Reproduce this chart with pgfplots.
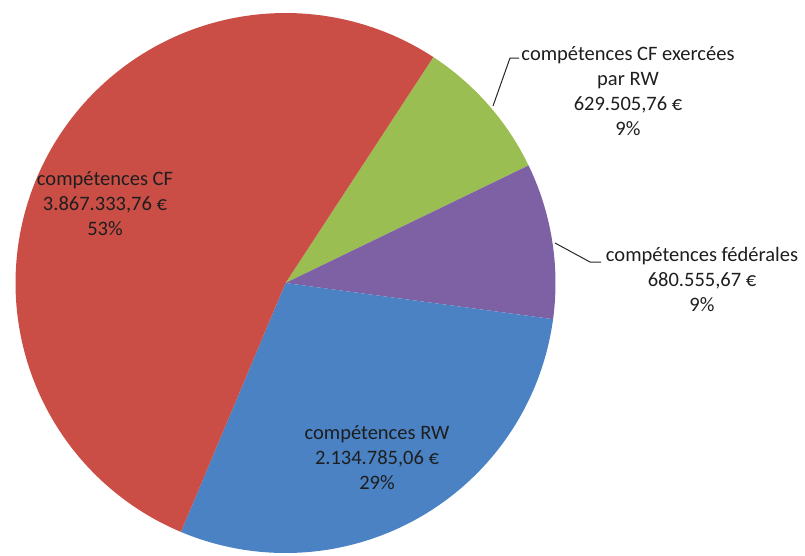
\documentclass[border=0pt]{standalone}
\usepackage{fontspec}
\setmainfont{Carlito}
\usepackage{pgfplots}
\pgfplotsset{compat=1.18}
\definecolor{cred}{RGB}{203,78,70}
\definecolor{cgreen}{RGB}{155,190,82}
\definecolor{cpurple}{RGB}{126,96,164}
\definecolor{cblue}{RGB}{74,130,196}
\definecolor{ctext}{RGB}{30,30,30}
% values (EUR)
\def\vA{629505.76}   % compétences CF exercées par RW
\def\vB{680555.67}   % compétences fédérales
\def\vC{2134785.06}  % compétences RW
\def\vD{3867333.76}  % compétences CF
\pgfkeys{/pgf/fpu=true,/pgf/fpu/output format=fixed}
\pgfmathsetmacro\tot{\vA+\vB+\vC+\vD}
\pgfmathsetmacro\aA{56.8}
\pgfmathsetmacro\aB{\aA-360*\vA/\tot}
\pgfmathsetmacro\aC{\aB-360*\vB/\tot}
\pgfmathsetmacro\aD{\aC-360*\vC/\tot}
\pgfmathsetmacro\aE{\aD-360*\vD/\tot}
\pgfkeys{/pgf/fpu=false}
\begin{document}
\begin{tikzpicture}
\begin{axis}[x=1pt, y=1pt, xmin=0, xmax=805, ymin=0, ymax=555, y dir=reverse,
  hide axis, clip=false, scale only axis]
\path (axis cs:0,0) rectangle (axis cs:805,555);
\addplot[fill=cgreen, draw=none, domain=\aB:\aA, samples=60, variable=\t]
  ({285.5+270*cos(\t)},{283-270*sin(\t)}) -- (axis cs:285.5,283) -- cycle;
\addplot[fill=cpurple, draw=none, domain=\aC:\aB, samples=60, variable=\t]
  ({285.5+270*cos(\t)},{283-270*sin(\t)}) -- (axis cs:285.5,283) -- cycle;
\addplot[fill=cblue, draw=none, domain=\aD:\aC, samples=100, variable=\t]
  ({285.5+270*cos(\t)},{283-270*sin(\t)}) -- (axis cs:285.5,283) -- cycle;
\addplot[fill=cred, draw=none, domain=\aE:\aD, samples=160, variable=\t]
  ({285.5+270*cos(\t)},{283-270*sin(\t)}) -- (axis cs:285.5,283) -- cycle;
% leader lines
\draw[black!85, line width=1pt] (axis cs:493,106) -- (axis cs:510,58) -- (axis cs:519,58);
\draw[black!85, line width=1pt] (axis cs:555,243) -- (axis cs:590,262) -- (axis cs:601,262);
% labels
\tikzset{lbl/.style={align=center, inner sep=0pt, text=ctext, font=\fontsize{20.5}{25}\selectfont}}
\node[lbl] at (axis cs:105,204) {compétences CF\\3.867.333,76 €\\53\%};
\node[lbl] at (axis cs:628,91) {compétences CF exercées\\par RW\\629.505,76 €\\9\%};
\node[lbl] at (axis cs:702,279.5) {compétences fédérales\\680.555,67 €\\9\%};
\node[lbl] at (axis cs:377,458) {compétences RW\\2.134.785,06 €\\29\%};
\end{axis}
\end{tikzpicture}
\end{document}
